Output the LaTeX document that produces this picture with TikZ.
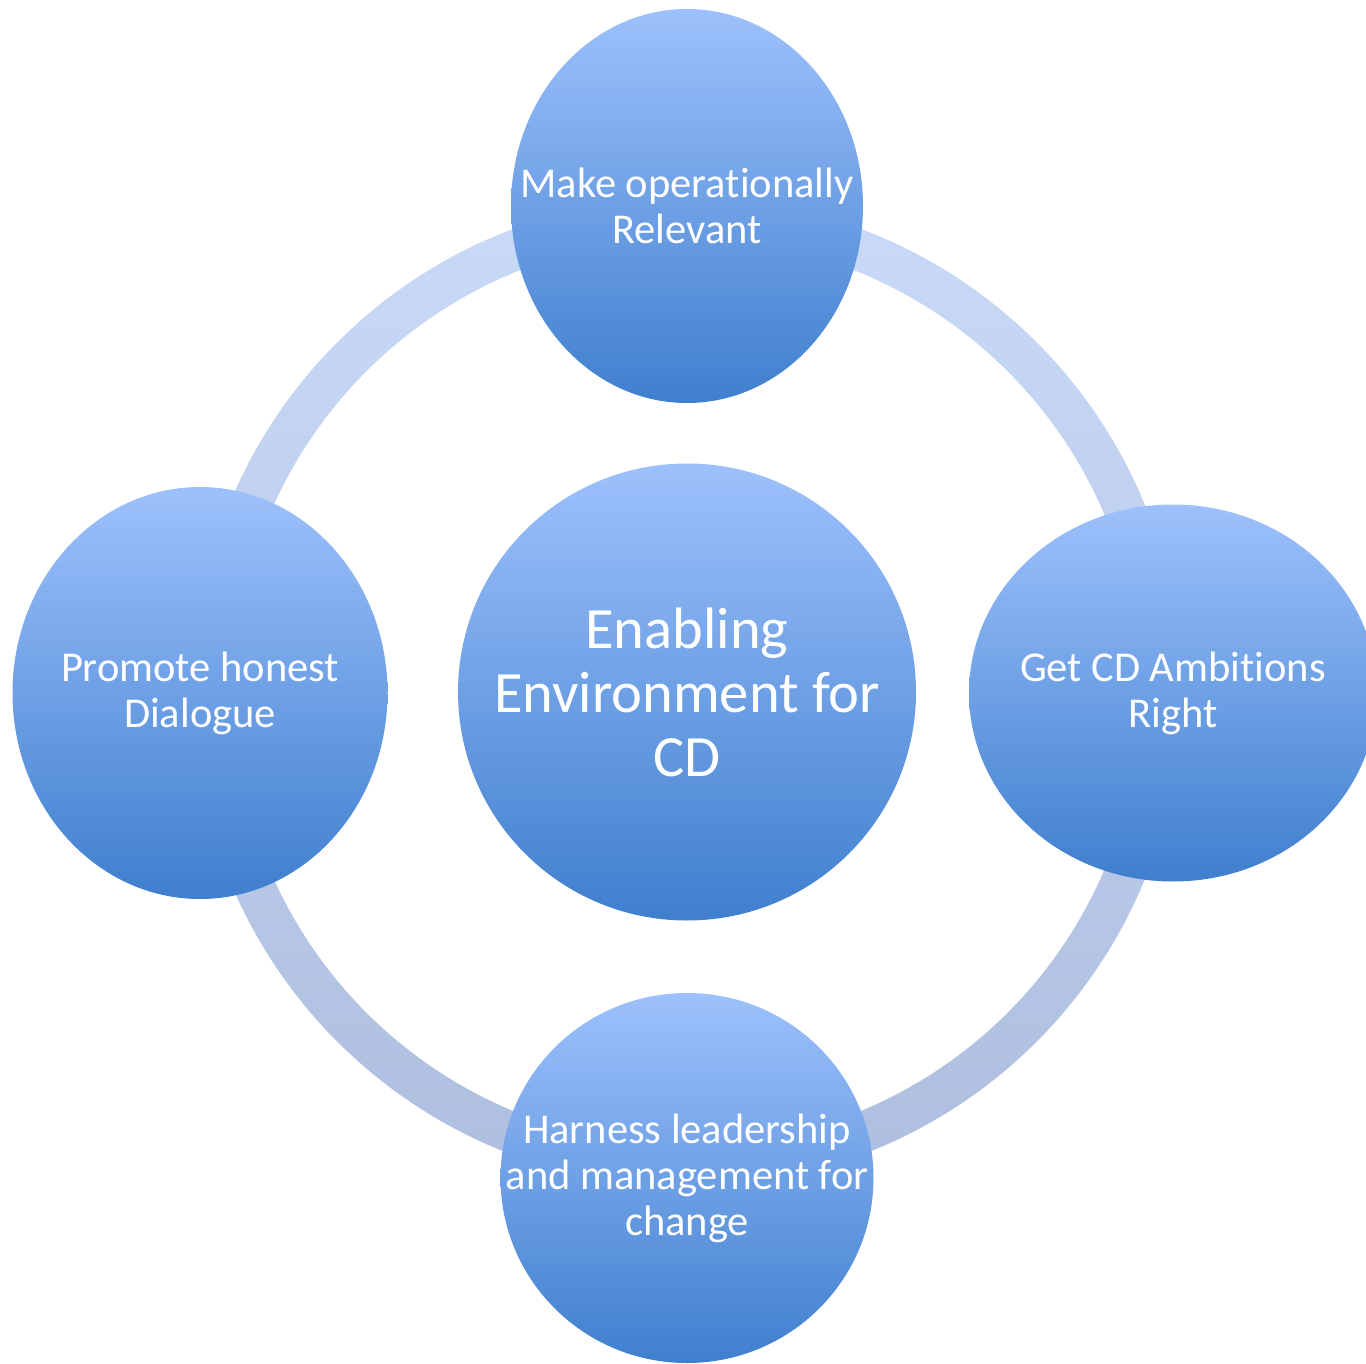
\documentclass[tikz,border=0pt]{standalone}
\usepackage{fontspec}
\setmainfont[Ligatures={NoCommon}]{Carlito}
\usetikzlibrary{shapes.geometric}
\definecolor{balltop}{RGB}{157,193,252}
\definecolor{ballbot}{RGB}{63,127,206}
\definecolor{ringtop}{RGB}{201,218,248}
\definecolor{ringbot}{RGB}{174,190,222}
\tikzset{
  ball/.style={ellipse, inner sep=0pt, outer sep=0pt, top color=balltop, bottom color=ballbot, draw=none},
  label/.style={text=white, align=center, inner sep=0pt},
  smalltxt/.style={label, font=\fontsize{42.5}{46}\selectfont},
  bigtxt/.style={label, font=\fontsize{58.5}{64}\selectfont}
}
\begin{document}
\begin{tikzpicture}[x=1pt,y=-1pt]
\useasboundingbox (0,0) rectangle (1366,1364);
\clip (0,0) rectangle (1366,1364);
% ring
\shade[top color=ringtop, bottom color=ringbot, even odd rule]
  (687,692) circle [radius=494.5] (687,692) circle [radius=453.5];
% nodes
\node[ball, minimum width=458pt, minimum height=457pt] (center) at (687,692) {};
\node[bigtxt] (centertext) at (center) {Enabling\\Environment for\\CD};
\node[ball, minimum width=352pt, minimum height=394pt] (top) at (687,206) {};
\node[smalltxt] (toptext) at (top) {Make operationally\\Relevant};
\node[ball, minimum width=375pt, minimum height=412pt] (left) at (200,693) {};
\node[smalltxt] (lefttext) at (left) {Promote honest\\Dialogue};
\node[ball, minimum width=408pt, minimum height=377pt] (right) at (1173,693) {};
\node[smalltxt] (righttext) at (right) {Get CD Ambitions\\Right};
\node[ball, minimum width=373pt, minimum height=370pt] (bottom) at (687,1178) {};
\node[smalltxt] (bottomtext) at (bottom) {Harness leadership\\and management for\\change};
\end{tikzpicture}
\end{document}
